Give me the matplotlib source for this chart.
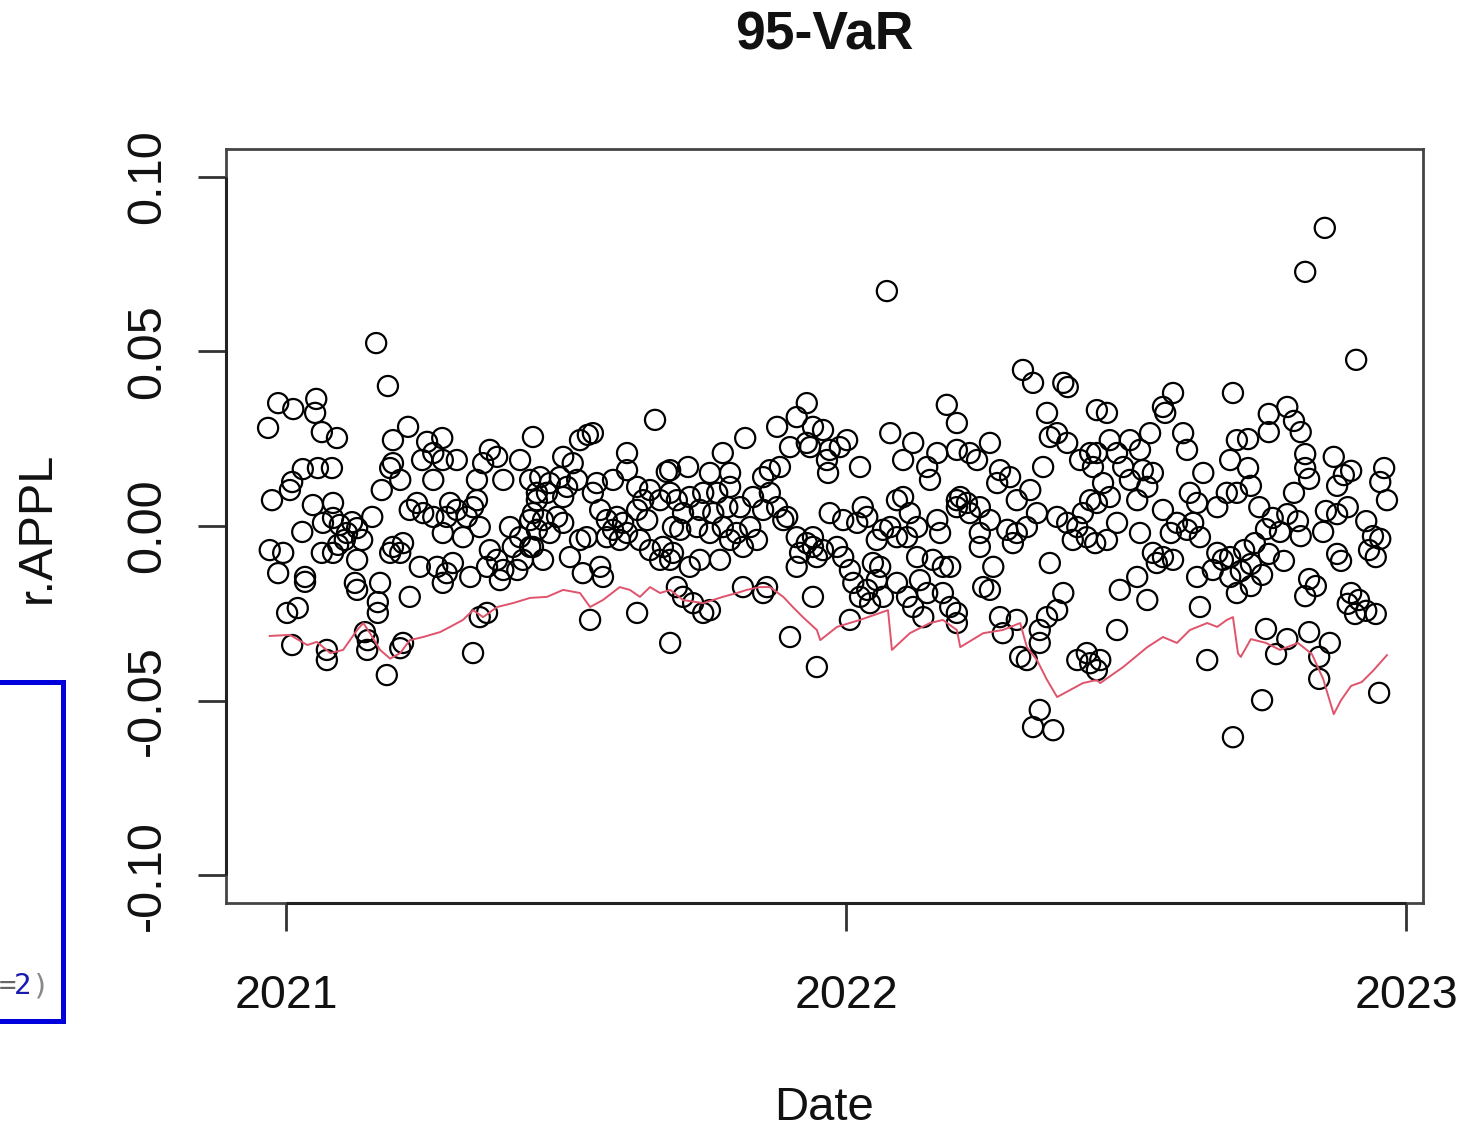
import matplotlib
matplotlib.use('Agg')
import matplotlib.pyplot as plt
from matplotlib.patches import Rectangle

W, H, DPI = 1462, 1131, 100

# daily log returns of AAPL: (date as decimal year, return in percent)
ret_21a = [(2020.968, 2.81), (2020.975, 0.74), (2020.971, -0.69), (2020.986, 3.52), (2020.986, -1.35),
           (2020.995, -0.77), (2021.002, -2.49), (2021.007, 1.03), (2021.011, 1.26), (2021.011, -3.41),
           (2021.013, 3.35), (2021.021, -2.35), (2021.029, -0.17), (2021.030, 1.63), (2021.034, -1.46),
           (2021.034, -1.60), (2021.048, 0.60), (2021.052, 3.24), (2021.054, 3.64), (2021.057, 1.66),
           (2021.064, 2.69), (2021.064, -0.77), (2021.066, 0.09), (2021.073, -3.55), (2021.073, -3.84),
           (2021.082, 1.66), (2021.084, 0.66), (2021.084, -0.77), (2021.084, 0.23), (2021.091, 2.52),
           (2021.093, -0.54), (2021.096, 0.03), (2021.105, -0.40), (2021.109, -0.20), (2021.118, 0.11),
           (2021.123, -1.63), (2021.127, -0.06), (2021.127, -0.97), (2021.127, -1.83), (2021.136, -0.40),
           (2021.141, -3.04), (2021.145, -3.55), (2021.146, -3.27), (2021.154, 0.26), (2021.161, 5.24),
           (2021.164, -2.18), (2021.164, -2.49), (2021.168, -1.63), (2021.171, 1.03), (2021.180, -4.27),
           (2021.182, 4.01), (2021.186, 1.66), (2021.186, -0.77), (2021.191, 2.46), (2021.204, -3.50)]

ret_21b = [(2021.191, 1.80), (2021.191, -0.60), (2021.204, 1.32), (2021.204, -0.77), (2021.209, -0.49),
           (2021.209, -3.35), (2021.218, 2.84), (2021.221, 0.46), (2021.221, -2.03), (2021.234, 0.66),
           (2021.239, -1.17), (2021.243, 1.89), (2021.245, 0.37), (2021.252, 2.41), (2021.263, 2.09),
           (2021.263, 1.32), (2021.263, 0.26), (2021.270, -1.17), (2021.279, 2.52), (2021.280, 1.89),
           (2021.280, -0.20), (2021.280, -1.63), (2021.287, 0.26), (2021.287, -1.35), (2021.293, 0.66),
           (2021.298, -1.06), (2021.305, 1.89), (2021.305, 0.46), (2021.316, -0.32), (2021.323, 0.26),
           (2021.329, -1.46), (2021.334, 0.54), (2021.334, -3.64), (2021.341, 1.32), (2021.341, 0.74),
           (2021.346, -0.03), (2021.346, -2.61), (2021.352, 1.80), (2021.359, -1.17), (2021.359, -2.49),
           (2021.364, 2.18), (2021.364, -0.69), (2021.377, 1.98), (2021.377, -0.97), (2021.382, -1.55),
           (2021.388, 1.32), (2021.388, -1.26), (2021.400, -0.03), (2021.405, -0.60), (2021.413, -1.26),
           (2021.418, 1.89), (2021.418, -0.32), (2021.423, -0.97), (2021.436, 1.32), (2021.436, 0.17),
           (2021.441, 2.55), (2021.441, -0.60), (2021.448, 0.95)]

ret_21c = [(2021.436, -0.60), (2021.441, 0.37), (2021.448, 0.74), (2021.448, -0.11), (2021.454, 1.40),
           (2021.459, 0.17), (2021.459, -0.97), (2021.466, 0.95), (2021.471, 1.23), (2021.471, -0.20),
           (2021.484, 0.26), (2021.489, 1.40), (2021.495, 1.98), (2021.495, 0.83), (2021.495, 0.09),
           (2021.502, 1.12), (2021.507, -0.89), (2021.512, 1.80), (2021.520, 1.32), (2021.525, 2.46),
           (2021.525, -0.40), (2021.530, -1.35), (2021.537, -0.32), (2021.539, 2.61), (2021.543, -2.69),
           (2021.548, 2.66), (2021.548, 0.95), (2021.555, 1.23), (2021.561, 0.46), (2021.561, -1.17),
           (2021.566, -1.46), (2021.573, 0.17), (2021.573, -0.32), (2021.584, 1.32), (2021.584, -0.11),
           (2021.591, 0.26), (2021.596, -0.40), (2021.602, 0.09), (2021.609, 2.09), (2021.609, 1.60),
           (2021.609, -0.20), (2021.627, 1.12), (2021.627, 0.46), (2021.627, -2.49), (2021.632, -0.40),
           (2021.638, 0.74), (2021.645, 0.17), (2021.650, 1.03), (2021.650, -0.69), (2021.659, 3.04),
           (2021.668, 0.74), (2021.668, -0.97), (2021.673, -0.60), (2021.680, 1.55), (2021.686, 0.95),
           (2021.686, -3.35), (2021.691, -0.77), (2021.691, -0.03), (2021.698, -1.75)]

ret_21d = [(2021.686, 1.60), (2021.686, -0.97), (2021.698, 0.74), (2021.704, -0.11), (2021.709, 0.37),
           (2021.709, -2.03), (2021.718, 1.69), (2021.721, 0.83), (2021.721, -1.17), (2021.727, -2.21),
           (2021.734, -0.03), (2021.739, 0.46), (2021.739, -0.97), (2021.745, 0.95), (2021.745, -2.49),
           (2021.757, 1.52), (2021.757, -0.20), (2021.757, -2.41), (2021.763, 0.37), (2021.770, 0.95),
           (2021.775, -0.97), (2021.780, 2.09), (2021.780, -0.03), (2021.788, 0.54), (2021.793, 1.52),
           (2021.793, 1.12), (2021.793, -0.40), (2021.805, -0.20), (2021.811, 0.54), (2021.816, -0.60),
           (2021.816, -1.75), (2021.820, 2.52), (2021.829, -0.03), (2021.834, 0.83), (2021.841, -0.40),
           (2021.852, 1.40), (2021.852, 0.46), (2021.852, -1.92), (2021.859, -1.75), (2021.864, 1.60),
           (2021.864, 0.95), (2021.877, 2.84), (2021.877, 0.54), (2021.882, 1.69), (2021.888, 0.17),
           (2021.895, 0.26), (2021.900, 2.26), (2021.900, -3.18), (2021.912, 3.12), (2021.912, -0.32),
           (2021.912, -1.17), (2021.918, -0.77), (2021.930, 3.52), (2021.930, 2.38), (2021.930, -0.49),
           (2021.941, 2.84), (2021.941, -0.60), (2021.941, -2.03), (2021.948, -4.04)]

ret_22a = [(2021.936, 2.26), (2021.941, -0.32), (2021.948, -0.89), (2021.959, 2.75), (2021.959, -0.69),
           (2021.966, 1.89), (2021.968, 1.52), (2021.971, 2.18), (2021.971, 0.37), (2021.984, -0.60),
           (2021.989, 2.26), (2021.995, 0.17), (2021.995, -0.89), (2022.002, 2.46), (2022.007, -1.26),
           (2022.007, -2.69), (2022.013, -1.63), (2022.020, 0.09), (2022.025, 1.69), (2022.025, -2.03),
           (2022.030, 0.54), (2022.038, 0.26), (2022.038, -1.83), (2022.043, -2.21), (2022.048, -1.06),
           (2022.055, -0.40), (2022.055, -1.55), (2022.061, -1.17), (2022.066, -0.11), (2022.066, -2.03),
           (2022.073, 6.73), (2022.079, 2.66), (2022.079, -0.03), (2022.091, 0.74), (2022.091, -0.32),
           (2022.091, -1.63), (2022.102, 1.89), (2022.102, 0.83), (2022.109, -0.32), (2022.109, -2.03),
           (2022.114, 0.37), (2022.120, 2.38), (2022.120, -2.32), (2022.127, -0.03), (2022.127, -0.89),
           (2022.132, -1.55), (2022.138, -2.61), (2022.145, 1.69), (2022.145, -1.92), (2022.150, 1.32),
           (2022.155, -0.97), (2022.163, 2.09), (2022.163, 0.17), (2022.168, -0.20), (2022.173, -1.17),
           (2022.173, -1.92), (2022.180, 3.47), (2022.186, -2.32), (2022.198, 2.18), (2022.198, 0.74),
           (2022.198, -2.49)]

ret_22b = [(2022.186, -1.17), (2022.198, 2.95), (2022.198, 0.54), (2022.198, -2.78), (2022.204, 0.83),
           (2022.216, 0.66), (2022.221, 2.09), (2022.221, 0.37), (2022.234, 1.89), (2022.239, 0.54),
           (2022.239, -0.20), (2022.239, -0.60), (2022.245, -1.75), (2022.257, 2.38), (2022.257, 0.17),
           (2022.257, -1.83), (2022.263, -1.17), (2022.270, 1.23), (2022.275, 1.60), (2022.275, -2.61),
           (2022.280, -3.07), (2022.288, -0.11), (2022.293, 1.40), (2022.298, -0.49), (2022.305, 0.74),
           (2022.305, -0.20), (2022.305, -2.69), (2022.311, -3.75), (2022.316, 4.47), (2022.323, -0.03),
           (2022.323, -3.84), (2022.329, 1.03), (2022.334, 4.10), (2022.334, -5.76), (2022.341, 0.37),
           (2022.346, -2.98), (2022.346, -3.35), (2022.346, -5.27), (2022.352, 1.69), (2022.359, 3.24),
           (2022.359, -2.61), (2022.364, 2.55), (2022.364, -1.06), (2022.370, -5.85), (2022.377, 2.66),
           (2022.377, 0.26), (2022.377, -2.41), (2022.388, 4.10), (2022.388, -1.92), (2022.395, 2.38),
           (2022.395, 0.09), (2022.396, 3.98), (2022.405, -0.40), (2022.413, -0.03), (2022.413, -3.84),
           (2022.418, 1.89), (2022.423, 0.37), (2022.430, -0.32), (2022.430, -3.64), (2022.436, 2.09),
           (2022.436, 0.74), (2022.436, -3.93), (2022.445, -0.49), (2022.448, 3.32), (2022.448, -4.13)]

ret_22c = [(2022.441, 1.69), (2022.448, 2.09), (2022.448, 0.66), (2022.454, -3.84), (2022.459, 1.23),
           (2022.466, 3.24), (2022.466, -0.40), (2022.471, 2.46), (2022.471, 0.83), (2022.484, 2.09),
           (2022.484, 0.09), (2022.484, -2.98), (2022.489, -1.83), (2022.495, 1.69), (2022.507, 2.46),
           (2022.507, 1.32), (2022.520, 0.74), (2022.520, -1.46), (2022.525, 2.18), (2022.525, -0.20),
           (2022.530, 1.60), (2022.538, 1.12), (2022.538, -2.12), (2022.543, 2.66), (2022.548, 1.52),
           (2022.548, -0.77), (2022.555, -1.06), (2022.566, 3.41), (2022.566, 0.46), (2022.566, -0.89),
           (2022.570, 3.24), (2022.580, -0.20), (2022.584, 3.81), (2022.584, -0.97), (2022.591, 0.09),
           (2022.602, 2.66), (2022.609, 2.18), (2022.609, -0.11), (2022.614, 0.95), (2022.620, 0.09),
           (2022.627, 0.66), (2022.627, -1.46), (2022.632, -0.32), (2022.632, -2.32), (2022.638, 1.52),
           (2022.645, -3.84), (2022.655, -1.26), (2022.663, 0.54), (2022.663, -0.77), (2022.673, -0.97),
           (2022.680, 0.95), (2022.686, 1.89), (2022.686, -1.46), (2022.691, 3.81), (2022.691, -6.05),
           (2022.698, 2.46), (2022.698, -1.92)]

ret_22d = [(2022.686, -0.89), (2022.698, 0.95), (2022.705, -1.29), (2022.711, -0.69), (2022.718, 2.49),
           (2022.718, 1.66), (2022.723, 1.15), (2022.723, -1.09), (2022.723, -1.72), (2022.730, -0.49),
           (2022.738, 0.54), (2022.743, -1.40), (2022.743, -4.99), (2022.750, -0.09), (2022.750, -2.95),
           (2022.755, 3.21), (2022.755, 2.69), (2022.755, -0.80), (2022.762, 0.23), (2022.768, -3.67),
           (2022.775, -0.17), (2022.782, -1.00), (2022.788, 3.41), (2022.788, 0.34), (2022.788, -3.24),
           (2022.800, 3.01), (2022.800, 0.95), (2022.807, 0.14), (2022.812, 2.69), (2022.812, -0.29),
           (2022.820, 7.28), (2022.820, 2.06), (2022.820, 1.66), (2022.820, -2.01), (2022.827, 1.35),
           (2022.827, -1.52), (2022.827, -3.04), (2022.839, -1.72), (2022.845, -3.75), (2022.845, -4.38),
           (2022.852, -0.17), (2022.855, 8.54), (2022.857, 0.43), (2022.864, -3.35), (2022.871, 1.98),
           (2022.877, 1.15), (2022.877, 0.34), (2022.877, -0.80), (2022.884, -1.00), (2022.889, 1.46),
           (2022.896, 0.54), (2022.896, -2.23), (2022.902, 1.58), (2022.902, -1.92), (2022.909, -2.52),
           (2022.911, 4.76), (2022.916, -2.12), (2022.929, 0.14), (2022.929, -2.43), (2022.934, -0.69),
           (2022.941, -0.29), (2022.946, -0.89), (2022.946, -2.52), (2022.952, -4.78), (2022.954, 1.26),
           (2022.954, -0.37), (2022.961, 1.66), (2022.966, 0.74)]

# rolling 95% value at risk (percent)
var_date = [2020.971, 2021.007, 2021.038, 2021.055, 2021.079, 2021.102, 2021.127, 2021.138, 2021.150,
            2021.168, 2021.186, 2021.204, 2021.221, 2021.245, 2021.275, 2021.293, 2021.316, 2021.334,
            2021.352, 2021.377, 2021.405, 2021.436, 2021.466, 2021.495, 2021.525, 2021.543, 2021.566,
            2021.596, 2021.614, 2021.632, 2021.650, 2021.668, 2021.686, 2021.709, 2021.745, 2021.780,
            2021.805, 2021.823, 2021.846, 2021.864, 2021.888, 2021.905, 2021.923, 2021.948, 2021.954,
            2021.984, 2022.025, 2022.061, 2022.075, 2022.082, 2022.114, 2022.150, 2022.173, 2022.198,
            2022.204, 2022.245, 2022.280, 2022.311, 2022.323, 2022.341, 2022.359, 2022.377, 2022.400,
            2022.423, 2022.448, 2022.454, 2022.495, 2022.538, 2022.566, 2022.591, 2022.614, 2022.645,
            2022.663, 2022.680, 2022.691, 2022.700, 2022.705, 2022.723, 2022.750, 2022.775, 2022.807,
            2022.832, 2022.852, 2022.871, 2022.884, 2022.902, 2022.921, 2022.941, 2022.966]
var_pct = [-3.15, -3.12, -3.41, -3.32, -3.64, -3.55, -2.98, -2.78, -3.07,
           -3.55, -3.80, -3.64, -3.27, -3.18, -3.04, -2.89, -2.69, -2.41,
           -2.61, -2.32, -2.21, -2.06, -2.03, -1.83, -1.92, -2.32, -2.12,
           -1.75, -1.83, -2.03, -1.75, -1.92, -1.83, -2.12, -2.21, -2.03,
           -1.92, -1.83, -1.75, -1.75, -2.03, -2.32, -2.61, -2.98, -3.27,
           -2.89, -2.69, -2.49, -2.41, -3.55, -3.07, -2.78, -2.69, -2.98,
           -3.47, -3.07, -2.98, -2.78, -3.47, -3.84, -4.41, -4.90, -4.70,
           -4.50, -4.41, -4.50, -4.04, -3.47, -3.18, -3.35, -2.98, -2.78,
           -2.89, -2.69, -2.61, -3.65, -3.75, -3.24, -3.35, -3.55, -3.35,
           -3.67, -4.38, -5.39, -4.99, -4.58, -4.47, -4.15, -3.70]

x_ticks = [2021, 2022, 2023]
x_labels = ['2021', '2022', '2023']
y_ticks = [-0.10, -0.05, 0.00, 0.05, 0.10]
y_labels = ['-0.10', '-0.05', '0.00', '0.05', '0.10']

plt.rcParams['font.family'] = 'Liberation Sans'

fig = plt.figure(figsize=(W / DPI, H / DPI), dpi=DPI)
ax = fig.add_axes([226 / W, 1 - 903 / H, (1423 - 226) / W, (903 - 149) / H])

pts = ret_21a + ret_21b + ret_21c + ret_21d + ret_22a + ret_22b + ret_22c + ret_22d
dates = [p[0] for p in pts]
rets = [p[1] / 100 for p in pts]

ax.scatter(dates, rets, s=210, facecolors='none', edgecolors='black', linewidths=1.6, zorder=2)
ax.plot(var_date, [v / 100 for v in var_pct], color='#DF536B', lw=1.4, zorder=3)

ax.set_xlim(2021 - 60 / 560, 2021 + 1137 / 560)
ax.set_ylim(-0.108, 0.108)

# R-style box and axes
for sp in ax.spines.values():
    sp.set_linewidth(2.0)
    sp.set_color('#444444')
ax.hlines(ax.get_ylim()[0], x_ticks[0], x_ticks[-1], colors='#222222', lw=2.2, clip_on=False, zorder=5)
ax.vlines(ax.get_xlim()[0], y_ticks[0], y_ticks[-1], colors='#222222', lw=2.2, clip_on=False, zorder=5)

ax.set_xticks(x_ticks)
ax.set_xticklabels(x_labels)
ax.set_yticks(y_ticks)
ax.set_yticklabels(y_labels)
ax.tick_params(axis='both', length=20.5, width=2.0, color='#333333', labelsize=35, labelcolor='#111111')
ax.tick_params(axis='x', pad=55, labelsize=33.5)
ax.tick_params(axis='y', pad=27)
for lab in ax.get_xticklabels():
    lab.set_va('baseline')
for lab in ax.get_yticklabels():
    lab.set(rotation=90, rotation_mode='anchor', ha='center', va='baseline')

fig.text(824 / W, 1 - 50 / H, '95-VaR', ha='center', va='baseline',
         fontsize=38.5, fontweight='bold', color='#111111')
fig.text(824 / W, 1 - 1120 / H, 'Date', ha='center', va='baseline', fontsize=34, color='#111111')
fig.text(50 / W, 1 - 527 / H, 'r.APPL', ha='center', va='baseline', rotation=90,
         rotation_mode='anchor', fontsize=35, color='#111111')

# editor overlay at the left edge
fig.add_artist(Rectangle((-20 / W, 1 - 1020.5 / H), 82.5 / W, (1020.5 - 681.5) / H,
                         transform=fig.transFigure, fill=False, edgecolor='#0000DD', lw=3.6))
fig.text(7.5 / W, 1 - 994 / H, '=', ha='center', va='baseline', fontsize=21,
         family='DejaVu Sans Mono', color='#666666')
fig.text(23 / W, 1 - 994 / H, '2', ha='center', va='baseline', fontsize=21,
         family='DejaVu Sans Mono', color='#1A1AB0')
fig.text(41 / W, 1 - 994 / H, ')', ha='center', va='baseline', fontsize=21,
         family='DejaVu Sans Mono', color='#888888')

fig.savefig('out.png', dpi=DPI)
